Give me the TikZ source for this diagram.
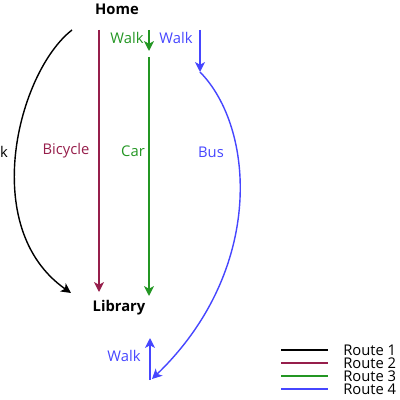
\documentclass[tikz,border=0pt]{standalone}
\usepackage{fontspec}
\setmainfont{Open Sans}
\usetikzlibrary{arrows.meta}
\definecolor{bikered}{RGB}{150,30,75}
\definecolor{cargreen}{RGB}{35,150,35}
\definecolor{busblue}{RGB}{70,70,255}
\begin{document}
\begin{tikzpicture}[
    x=0.025cm,y=-0.025cm,
    font=\fontsize{10.5}{11}\selectfont,
    place/.style={font=\fontsize{10.5}{11}\selectfont\bfseries,inner sep=1pt},
    lbl/.style={inner sep=1pt},
    route/.style={line width=1pt,->,>={Stealth[length=7pt,width=7pt,inset=1.8pt]}},
    key/.style={line width=1pt},
    keytext/.style={anchor=west,inner sep=0pt}
]
    \useasboundingbox (0,0) rectangle (400,400);
    \node[place] (home) at (117,9) {Home};
    \node[place] (library) at (119,308) {Library};

    % route 1
    \coordinate (r1a) at (72,30);
    \coordinate (r1b) at (71,293);
    \draw[route,black] (r1a) .. controls (18,72) and (-22,228) .. (r1b);
    \node[lbl] (walkone) at (4,152) {k};

    % route 2
    \coordinate (r2a) at (99,30);
    \coordinate (r2b) at (99,292);
    \draw[route,bikered] (r2a) -- (r2b);
    \node[lbl,text=bikered] (bike) at (66,151) {Bicycle};

    % route 3
    \coordinate (r3a) at (149,30);
    \coordinate (r3b) at (149,51);
    \coordinate (r3c) at (149,57);
    \coordinate (r3d) at (149,296);
    \draw[route,cargreen] (r3a) -- (r3b);
    \draw[route,cargreen] (r3c) -- (r3d);
    \node[lbl,text=cargreen] (walkthree) at (127,38) {Walk};
    \node[lbl,text=cargreen] (car) at (133,151) {Car};

    % route 4
    \coordinate (r4a) at (200,30);
    \coordinate (r4b) at (200,72);
    \coordinate (r4c) at (152,379);
    \coordinate (r4d) at (150,380);
    \coordinate (r4e) at (150,338);
    \draw[route,busblue] (r4a) -- (r4b);
    \draw[route,busblue] (r4b) .. controls (255,128) and (265,270) .. (r4c);
    \draw[route,busblue] (r4d) -- (r4e);
    \node[lbl,text=busblue] (walkfour) at (176,38) {Walk};
    \node[lbl,text=busblue] (bus) at (211,152) {Bus};
    \node[lbl,text=busblue] (walkfive) at (124,356) {Walk};

    % key
    \foreach \c/\t/\y in {black/1/350,bikered/2/363,cargreen/3/376,busblue/4/389}{
        \draw[key,\c] (281,\y) -- (328,\y);
        \node[keytext] (key\t) at (343,\y) {Route \t};
    }
\end{tikzpicture}
\end{document}
